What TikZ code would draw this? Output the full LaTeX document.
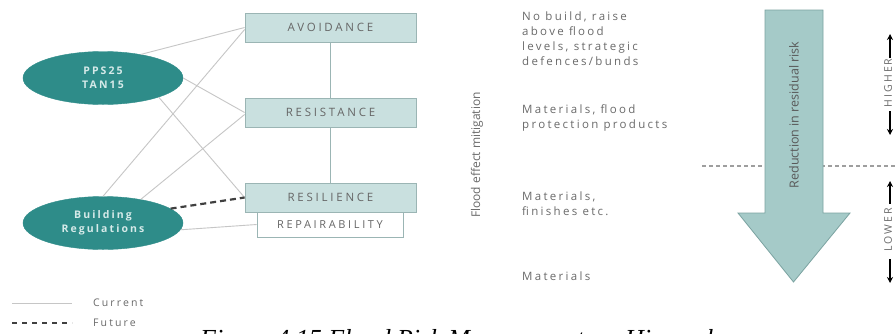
\documentclass[tikz,border=0pt]{standalone}
\usepackage{fontspec}
\setmainfont{Open Sans}
\newfontfamily\spaced{Open Sans}[LetterSpace=20]
\newfontfamily\spacedw{Open Sans}[LetterSpace=24]
\newfontfamily\capserif{Liberation Serif}
\usetikzlibrary{shapes.geometric,arrows.meta}
\definecolor{teal1}{HTML}{2E8C89}
\definecolor{boxfill}{HTML}{C9E0DF}
\definecolor{boxline}{HTML}{9BB5B4}
\definecolor{arrfill}{HTML}{A5CAC8}
\definecolor{arrline}{HTML}{7BA3A1}
\definecolor{lgray}{HTML}{C6C6C6}
\definecolor{tgray}{HTML}{6A6A6A}
\definecolor{ellt}{HTML}{D6EAE9}
\tikzset{
  oval/.style={ellipse, fill=teal1, draw=teal1, minimum width=160, minimum height=53, inner sep=0,
    text=ellt, align=center, font=\spaced\fontsize{10.5}{14}\selectfont\bfseries},
  hbox/.style={rectangle, fill=boxfill, draw=boxline, line width=0.8, minimum width=171, minimum height=29,
    inner sep=0, text=black!60, font=\spacedw\fontsize{11.5}{12}\selectfont},
  wbox/.style={rectangle, fill=white, draw=boxline, line width=0.8, minimum width=146, minimum height=25,
    inner sep=0, text=black!60, font=\spacedw\fontsize{11}{12}\selectfont},
  cur/.style={draw=lgray, line width=0.9},
  fut/.style={draw=black!75, line width=2.2, dash pattern=on 6 off 4},
  gtxt/.style={text=tgray, inner sep=0, align=left, font=\spaced\fontsize{11.5}{15}\selectfont},
  rtxt/.style={text=tgray, inner sep=0, rotate=90, font=\fontsize{12}{14}\selectfont},
  sidearr/.style={-{Stealth[length=6,width=6]}, line width=1.6, draw=black}
}
\begin{document}
\begin{tikzpicture}[x=1pt,y=-1pt]
\useasboundingbox (0,0) rectangle (896,333);
\fill[white] (0,0) rectangle (896,333);

% boxes
\node[hbox] (avoid) at (330.5,27.5) {AVOIDANCE};
\node[hbox] (resist) at (330.5,112.5) {RESISTANCE};
\node[hbox] (resil) at (330.5,197.5) {RESILIENCE};
\node[wbox] (repair) at (330,224.5) {REPAIRABILITY};

% ellipses
\node[oval] (pps) at (103,78) {PPS25\\TAN15};
\node[oval] (bldg) at (103,223) {Building\\Regulations};

% connectors
\draw[cur] (pps.32) -- (avoid.west);
\draw[cur] (pps.east) -- (resist.west);
\draw[cur] (pps.-19) -- (resil.west);
\draw[cur] (bldg.north) -- ([yshift=-2]avoid.west);
\draw[cur] (bldg.32) -- ([yshift=-2]resist.west);
\draw[cur] (bldg.-5) -- (repair.west);
\draw[fut] (bldg.12) -- (resil.west);
\draw[draw=boxline, line width=0.9] (avoid.south) -- (resist.north);
\draw[draw=boxline, line width=0.9] (resist.south) -- (resil.north);

% legend
\coordinate (l1a) at (12,303); \coordinate (l1b) at (72,303);
\coordinate (l2a) at (12,323); \coordinate (l2b) at (72,323);
\draw[cur] (l1a) -- (l1b);
\draw[fut, line width=2, dash pattern=on 5 off 5] (l2a) -- (l2b);
\node[gtxt, anchor=west, font=\spaced\fontsize{10.5}{12}\selectfont] (lc) at (93,303) {Current};
\node[gtxt, anchor=west, font=\spaced\fontsize{10.5}{12}\selectfont] (lf) at (93,323) {Future};

% rotated axis label
\node[rtxt] (fem) at (477,155) {Flood effect mitigation};

% text blocks
\node[gtxt, anchor=north west] (t1) at (522,12) {No build, raise\\above flood\\levels, strategic\\defences/bunds};
\node[gtxt, anchor=north west] (t2) at (522,104) {Materials, flood\\protection products};
\node[gtxt, anchor=north west] (t3) at (522,192) {Materials,\\finishes etc.};
\node[gtxt, anchor=north west] (t4) at (522,272) {Materials};

% dashed threshold
\coordinate (dl) at (702,166); \coordinate (dr) at (896,166);
\draw[draw=lgray!80!black, line width=1.2, dash pattern=on 4 off 3] (dl) -- (dr);

% big arrow
\draw[fill=arrfill, draw=arrline, line width=0.8]
  (765,10) -- (823,10) -- (823,213) -- (850,213) -- (793.5,282) -- (738,213) -- (765,213) -- cycle;
\node[rtxt, text=black!65, font=\fontsize{12.5}{14}\selectfont] (rr) at (794,115) {Reduction in residual risk};

% higher / lower
\node[rtxt, font=\spaced\fontsize{10.5}{12}\selectfont] (hi) at (888,83) {HIGHER};
\node[rtxt, font=\spaced\fontsize{10.5}{12}\selectfont] (lo) at (888,230) {LOWER};
\coordinate (h1) at (890,58); \coordinate (h2) at (890,34);
\coordinate (h3) at (890,111); \coordinate (h4) at (890,135);
\coordinate (l1) at (890,204); \coordinate (l2) at (890,181);
\coordinate (l3) at (890,259); \coordinate (l4) at (890,283);
\draw[sidearr] (h1) -- (h2);
\draw[sidearr] (h3) -- (h4);
\draw[sidearr] (l1) -- (l2);
\draw[sidearr] (l3) -- (l4);

% caption (cut off by page edge, as in the reference)
\node[anchor=base west, inner sep=0, font=\capserif\itshape\fontsize{26}{30}\selectfont] (cap) at (200,347)
  {Figure 4.15 Flood Risk Management\hspace{41pt}Hierarchy};
\end{tikzpicture}
\end{document}
